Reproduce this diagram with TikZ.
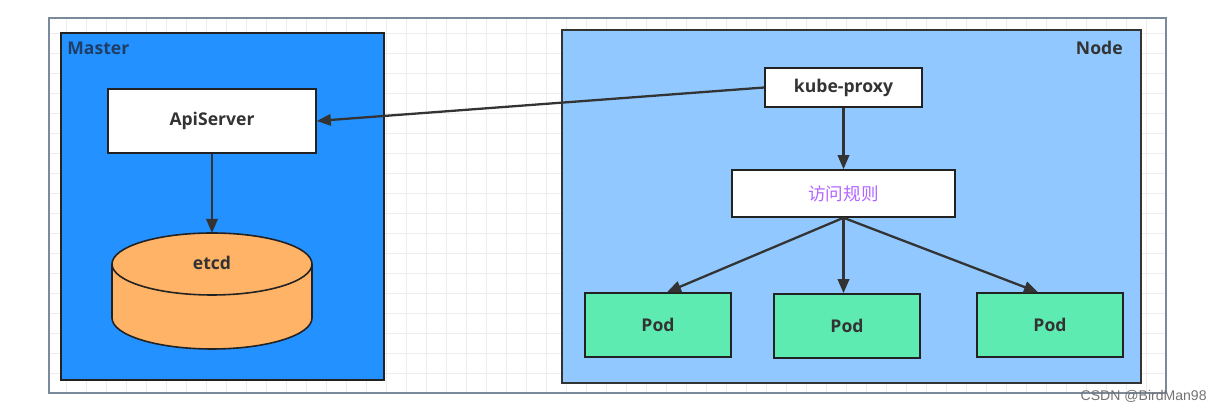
\documentclass[tikz,border=0pt]{standalone}
\usepackage{fontspec}
\setmainfont{Open Sans}
\newfontfamily\cjk{Noto Sans CJK SC}
\newfontfamily\wmfont{Liberation Sans}
\usetikzlibrary{arrows.meta,calc}
\definecolor{masterblue}{HTML}{2391FF}
\definecolor{nodeblue}{HTML}{91C8FF}
\definecolor{etcdorange}{HTML}{FFB366}
\definecolor{podgreen}{HTML}{5DEBB1}
\definecolor{rulepurple}{HTML}{B266FF}
\definecolor{txtdark}{HTML}{333333}
\definecolor{labnavy}{HTML}{1F3E66}
\definecolor{edge}{HTML}{222222}
\definecolor{gridc}{HTML}{EDEDED}
\definecolor{framec}{HTML}{7A8A9A}
\tikzset{
  box/.style={draw=edge, line width=0.9pt, fill=white, inner sep=0pt,
    font=\fontsize{10pt}{12pt}\selectfont\bfseries, text=txtdark},
  podbox/.style={box, fill=podgreen, minimum width=2.92cm, minimum height=1.28cm},
  container/.style={draw=edge, line width=1.4pt},
  conn/.style={draw=txtdark, line width=1.3pt, -{Triangle[length=8pt,width=6.5pt]}},
  lab/.style={font=\fontsize{10pt}{12pt}\selectfont\bfseries, inner sep=0pt}
}
\begin{document}
\begin{tikzpicture}[x=0.02cm,y=0.02cm]
\useasboundingbox (0,0) rectangle (1221,-411);
% background grid
\begin{scope}
\clip (49,-18) rectangle (1166,-393);
\foreach \gx in {6,26,...,1206} \draw[gridc, line width=0.5pt] (\gx,-18) -- (\gx,-393);
\foreach \gy in {13,33,...,413} \draw[gridc, line width=0.5pt] (49,-\gy) -- (1166,-\gy);
\end{scope}
\draw[framec, line width=0.6pt] (49,-18) rectangle (1166,-393);
% containers
\draw[container, fill=masterblue] (61,-33) rectangle (384,-380);
\draw[container, draw=txtdark, fill=nodeblue] (562,-30) rectangle (1141,-383);
\node[lab, text=labnavy, anchor=west] (mlab) at (67,-48) {Master};
\node[lab, text=txtdark, anchor=east] (nlab) at (1123,-48) {Node};
% master content
\node[box, minimum width=4.16cm, minimum height=1.28cm] (api) at (212,-121) {ApiServer};
\draw[draw=edge, line width=0.9pt, fill=etcdorange]
  (112,-264) -- (112,-318) arc[start angle=180,end angle=360,x radius=100,y radius=31]
  -- (312,-264) arc[start angle=0,end angle=180,x radius=100,y radius=31] -- cycle;
\draw[draw=edge, line width=0.9pt] (112,-264) arc[start angle=180,end angle=360,x radius=100,y radius=31];
\coordinate (etcdtop) at (212,-233);
\node[font=\fontsize{10pt}{12pt}\selectfont\bfseries, text=txtdark] (etcd) at (212,-263) {etcd};
\draw[conn] (api.south) -- (etcdtop);
% node content
\node[box, minimum width=3.14cm, minimum height=0.78cm] (kp) at (843.5,-87.5) {kube-proxy};
\node[box, minimum width=4.46cm, minimum height=0.94cm, font=\cjk\fontsize{10pt}{12pt}\selectfont, text=rulepurple] (rule) at (843.5,-193.5) {访问规则};
\node[podbox] (p1) at (658,-325) {Pod};
\node[podbox] (p2) at (847,-326) {Pod};
\node[podbox] (p3) at (1050,-325) {Pod};
\draw[conn] (kp.west) -- (api.east);
\draw[conn] (kp.south) -- (rule.north);
\draw[conn] (rule.south) -- ($(p1.north)+(9,0)$);
\draw[conn] (rule.south) -- (p2.north -| rule.south);
\draw[conn] (rule.south) -- ($(p3.north)+(-12,0)$);
% watermark
\node[font=\wmfont\fontsize{8pt}{9pt}\selectfont, text=black!55, anchor=east, inner sep=0pt] (wm) at (1207,-396) {CSDN @BirdMan98};
\end{tikzpicture}
\end{document}
